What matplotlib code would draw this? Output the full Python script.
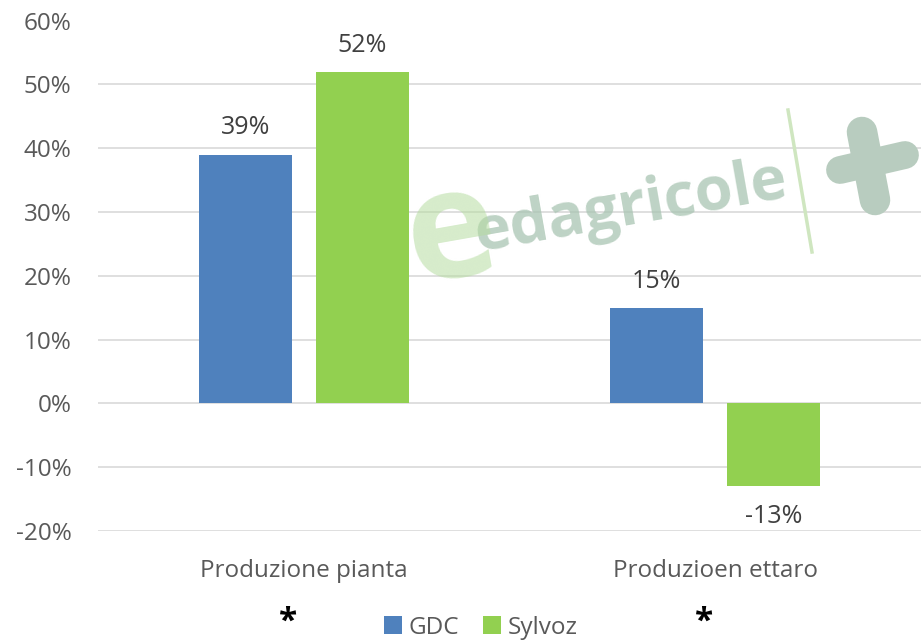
import numpy as np
import matplotlib.pyplot as plt
from matplotlib.lines import Line2D
from matplotlib.ticker import FuncFormatter

# Dati
categorie = ['Produzione pianta', 'Produzioen ettaro']
gdc = [0.39, 0.15]
sylvoz = [0.52, -0.13]
serie = ['GDC', 'Sylvoz']
colori = ['#4F81BD', '#92D050']

plt.rcParams['font.family'] = ['Open Sans', 'DejaVu Sans']

W, H = 921, 641
fig = plt.figure(figsize=(W / 100, H / 100), dpi=100)
ax = fig.add_axes([98 / W, 1 - 531 / H, 1 - 98 / W, (531 - 20.5) / H])

x = np.arange(len(categorie))
w = 0.226
off = 0.142

b1 = ax.bar(x - off, gdc, w, color=colori[0], label=serie[0], zorder=2)
b2 = ax.bar(x + off, sylvoz, w, color=colori[1], label=serie[1], zorder=2)

# Etichette dati
for barre in (b1, b2):
    for b in barre:
        v = b.get_height()
        if v >= 0:
            ax.text(b.get_x() + b.get_width() / 2, v + 0.022, f'{v*100:.0f}%',
                    ha='center', va='bottom', fontsize=18, color='#404040')
        else:
            ax.text(b.get_x() + b.get_width() / 2, v - 0.028, f'{v*100:.0f}%',
                    ha='center', va='top', fontsize=18, color='#404040')

ax.set_xlim(-0.5, 1.5)
ax.set_ylim(-0.2, 0.6)
ax.set_yticks(np.arange(-0.2, 0.61, 0.1))
ax.yaxis.set_major_formatter(FuncFormatter(lambda v, p: f'{v*100:.0f}%'))
ax.set_xticks(x)
ax.set_xticklabels(categorie)
ax.tick_params(axis='both', length=0, labelsize=17.5, colors='#595959')
ax.tick_params(axis='x', pad=20)
ax.tick_params(axis='y', pad=19)
ax.grid(axis='y', color='#D9D9D9', linewidth=1.2, zorder=0)
ax.set_axisbelow(True)
for s in ax.spines.values():
    s.set_visible(False)

# Filigrana
fig.text(0.685, 0.675, 'edagricole', fontsize=44, fontweight='bold', color='#a8c4b2',
         alpha=0.75, rotation=10, ha='center', va='center', zorder=5)
fig.text(0.49, 0.63, 'e', fontsize=110, fontweight='bold', color='#b5dca0',
         alpha=0.55, rotation=10, ha='center', va='center', zorder=5)
fig.add_artist(Line2D([788 / W, 812 / W], [1 - 110 / H, 1 - 252 / H],
                      color='#cfe6c0', lw=2.5, zorder=5))
fig.add_artist(Line2D([862 / W, 875 / W], [1 - 132 / H, 1 - 200 / H],
                      color='#b8ccbf', lw=22, solid_capstyle='round', zorder=5))
fig.add_artist(Line2D([840 / W, 905 / W], [1 - 170 / H, 1 - 155 / H],
                      color='#b8ccbf', lw=20, solid_capstyle='round', zorder=5))

# Legenda
fig.legend(handles=[b1, b2], loc='center', bbox_to_anchor=(0.522, 0.021), ncol=2,
           frameon=False, fontsize=17.5, labelcolor='#595959', handlelength=0.75,
           handleheight=0.75, handletextpad=0.25, columnspacing=1.0)
fig.text(288 / W, 1 - 622 / H, '*', fontsize=24, fontweight='bold', color='black',
         ha='center', va='center')
fig.text(704 / W, 1 - 622 / H, '*', fontsize=24, fontweight='bold', color='black',
         ha='center', va='center')

fig.savefig('out.png', dpi=100)
